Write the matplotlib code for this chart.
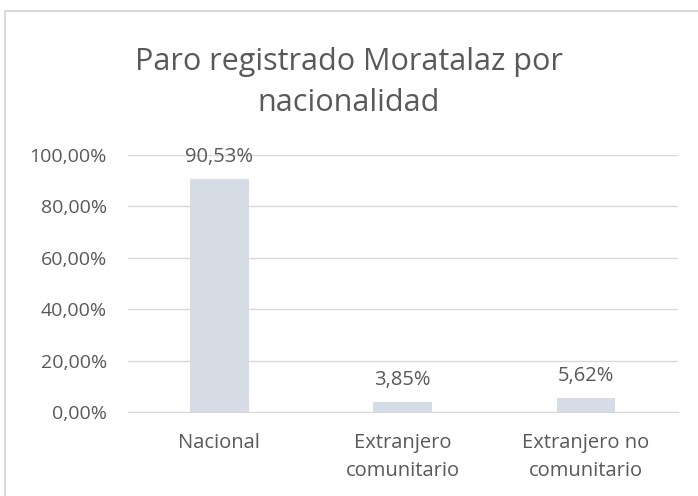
import matplotlib
matplotlib.use("Agg")
import matplotlib.pyplot as plt
from matplotlib.patches import Rectangle

categories = ["Nacional", "Extranjero\ncomunitario", "Extranjero no\ncomunitario"]
values = [90.53, 3.85, 5.62]
yticks = [0, 20, 40, 60, 80, 100]

plt.rcParams['font.family'] = ['Open Sans', 'DejaVu Sans']
txt = "#595959"

fig = plt.figure(figsize=(6.98, 4.96), dpi=100)
ax = fig.add_axes([0.183, 0.169, 0.788, 0.5185])

# chart border (cut off at right and bottom like the original)
fig.patches.append(Rectangle((5 / 698, -0.1), 1.1, 1 - 11 / 496 + 0.1, transform=fig.transFigure,
                             fill=False, edgecolor="#D9D9D9", linewidth=1.5))

x = range(len(categories))
ax.bar(x, values, width=0.32, color="#D6DCE5", zorder=2)
for xi, v in zip(x, values):
    ax.text(xi, v + 8.5, f"{v:.2f}%".replace(".", ","), ha="center", va="center",
            fontsize=14.5, color=txt)

ax.set_xlim(-0.5, 2.5)
ax.set_ylim(0, 100)
ax.set_yticks(yticks)
ax.set_yticklabels([f"{t:.2f}%".replace(".", ",") for t in yticks], fontsize=14, color=txt)
ax.set_xticks(list(x))
ax.set_xticklabels(categories, fontsize=14.5, color=txt, linespacing=1.55)
ax.tick_params(length=0)
ax.tick_params(axis="x", pad=15)
ax.tick_params(axis="y", pad=15)
ax.grid(axis="y", color="#D9D9D9", linewidth=1, zorder=0)
for s in ["top", "right", "left"]:
    ax.spines[s].set_visible(False)
ax.spines["bottom"].set_color("#D9D9D9")

fig.text(0.5, 0.834, "Paro registrado Moratalaz por\nnacionalidad", ha="center", va="center",
         fontsize=22, color=txt, linespacing=1.5)

fig.savefig("out.png", dpi=100)
